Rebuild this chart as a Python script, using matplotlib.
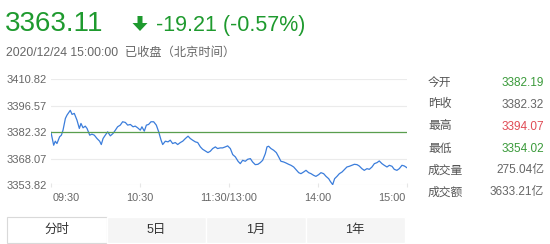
import matplotlib
matplotlib.use("Agg")
import matplotlib.pyplot as plt
from matplotlib.patches import Rectangle, Polygon

# 分时数据 (minutes since 09:30, lunch break removed)
minutes = [0, 1.8, 2.9, 4.0, 5.8, 7.0, 8.1, 9.7, 10.8, 13.0, 14.2, 15.7, 17.5, 19.1, 20.2,
           21.6, 23.1, 24.3, 26.1, 27.6, 29.2, 31.0, 32.8, 33.9, 35.1, 36.6, 38.2, 40.0,
           41.8, 43.4, 44.9, 46.7, 48.3, 50.1, 51.7, 53.5, 55.3, 56.8, 58.4, 60.2, 61.3,
           62.9, 64.3, 65.8, 67.4, 69.2, 71.0, 72.6, 74.2, 75.3, 77.1, 78.9, 80.4, 82.0,
           83.8, 85.4, 87.2, 88.8, 90.6, 92.4, 93.9, 95.5, 97.3, 98.9, 100.7, 102.2, 104.0,
           105.8, 107.4, 109.0, 110.8, 112.3, 114.1, 115.7, 117.5, 119.1, 120.9, 122.5,
           124.3, 126.1, 127.6, 129.2, 131.0, 132.6, 134.4, 135.9, 137.7, 139.5, 141.1,
           142.7, 144.5, 145.6, 146.7, 148.3, 150.1, 151.9, 153.5, 155.0, 156.8, 158.4,
           160.2, 161.8, 163.6, 165.2, 167.0, 168.5, 170.3, 171.9, 173.7, 175.3, 177.1,
           178.6, 180.4, 182.0, 183.8, 185.4, 187.2, 188.3, 189.9, 191.2, 192.8, 194.4,
           196.2, 197.7, 199.5, 201.1, 202.9, 204.5, 206.3, 207.8, 209.6, 211.2, 213.0,
           214.6, 216.4, 218.0, 219.8, 221.3, 223.1, 224.7, 226.5, 228.1, 229.9, 231.4,
           233.2, 234.8, 236.6, 238.2, 240]
prices = [3382.19, 3375.28, 3377.44, 3376.18, 3379.79, 3380.69, 3383.40, 3389.72, 3391.53,
          3394.07, 3391.89, 3392.43, 3388.82, 3384.31, 3387.02, 3384.67, 3385.57, 3384.31,
          3380.69, 3381.24, 3380.69, 3378.89, 3377.44, 3375.64, 3378.89, 3380.69, 3382.50,
          3380.33, 3381.60, 3383.40, 3385.21, 3386.11, 3387.92, 3387.56, 3386.11, 3386.47,
          3385.21, 3385.57, 3384.67, 3383.40, 3385.21, 3382.86, 3386.11, 3386.47, 3387.92,
          3387.92, 3386.11, 3382.50, 3377.99, 3375.64, 3377.44, 3377.08, 3377.99, 3376.18,
          3376.72, 3375.64, 3376.72, 3377.44, 3378.89, 3380.15, 3378.89, 3377.99, 3377.08,
          3376.72, 3374.37, 3373.11, 3372.21, 3371.30, 3372.03, 3373.47, 3374.37, 3373.47,
          3373.83, 3373.83, 3374.37, 3374.92, 3373.47, 3370.22, 3368.96, 3366.61, 3365.34,
          3367.15, 3366.61, 3367.69, 3368.05, 3366.25, 3364.80, 3364.98, 3365.89, 3367.15,
          3370.76, 3374.37, 3374.73, 3373.47, 3372.57, 3371.30, 3368.96, 3366.61, 3366.25,
          3365.70, 3364.98, 3364.44, 3363.54, 3362.09, 3360.47, 3359.93, 3360.83, 3361.73,
          3360.47, 3359.93, 3359.02, 3358.48, 3359.38, 3360.47, 3359.93, 3358.48, 3357.22,
          3355.77, 3354.02, 3357.22, 3358.48, 3359.93, 3360.83, 3362.09, 3363.54, 3363.90,
          3364.44, 3364.98, 3364.80, 3364.08, 3362.63, 3361.73, 3362.63, 3362.27, 3363.54,
          3365.34, 3365.89, 3366.79, 3365.34, 3364.44, 3363.54, 3364.44, 3363.90, 3362.27,
          3361.73, 3362.63, 3364.44, 3364.08, 3363.11]

prev_close = 3382.32
y_ticks = [3353.82, 3368.07, 3382.32, 3396.57, 3410.82]
x_ticks = [0, 60, 120, 180, 240]
x_labels = ["09:30", "10:30", "11:30/13:00", "14:00", "15:00"]

stat_names = ["今开", "昨收", "最高", "最低", "成交量", "成交额"]
stat_values = ["3382.19", "3382.32", "3394.07", "3354.02", "275.04亿", "3633.21亿"]
stat_colors = ["#3a9a3a", "#666666", "#e04b55", "#3a9a3a", "#666666", "#666666"]

tabs = ["分时", "5日", "1月", "1年"]

last_price = "3363.11"
change_text = "-19.21 (-0.57%)"
time_text = "2020/12/24 15:00:00  已收盘（北京时间）"

W, H = 550, 244
fonts = ["Liberation Sans", "Noto Sans CJK SC", "DejaVu Sans"]
plt.rcParams["font.family"] = fonts

fig = plt.figure(figsize=(W / 100, H / 100), dpi=100)


def fx(x):
    return x / W


def fy(y):
    return 1 - y / H


green = "#1e9a2e"

# header
fig.text(fx(5), fy(24), last_price, color=green, fontsize=20, va="center", ha="left")
arrow = Polygon([(fx(137.5), fy(16)), (fx(142.5), fy(16)), (fx(142.5), fy(23)),
                 (fx(147.5), fy(23)), (fx(140), fy(31)), (fx(132.5), fy(23)),
                 (fx(137.5), fy(23))], closed=True, facecolor=green, edgecolor="none",
                transform=fig.transFigure)
fig.add_artist(arrow)
fig.text(fx(156), fy(25), change_text, color=green, fontsize=15.5, va="center", ha="left")
fig.text(fx(6), fy(53), time_text, color="#666666", fontsize=8.8, va="center", ha="left")

# chart
ax = fig.add_axes([fx(51), fy(185), fx(407) - fx(51), (185 - 79.3) / H])
ax.plot(minutes, prices, color="#3b7ddb", lw=0.9)
ax.axhline(prev_close, color="#5a9e4e", lw=0.9)
ax.set_xlim(0, 240)
ax.set_ylim(y_ticks[0], y_ticks[-1])
ax.set_yticks(y_ticks)
ax.set_yticklabels(["%.2f" % v for v in y_ticks])
ax.yaxis.grid(True, color="#ebebeb", lw=0.8)
ax.set_axisbelow(True)
ax.tick_params(axis="y", length=0, pad=3, labelsize=8, labelcolor="#666666")
ax.set_xticks(x_ticks)
ax.set_xticklabels([])
ax.tick_params(axis="x", length=3, direction="inout", color="#e6e6e6")
for s in ax.spines.values():
    s.set_visible(False)

for i, (t, lab) in enumerate(zip(x_ticks, x_labels)):
    ha = "left" if i == 0 else ("right" if i == len(x_ticks) - 1 else "center")
    off = 2 if i == 0 else (-2 if i == len(x_ticks) - 1 else 0)
    ax.annotate(lab, xy=(t, 0), xycoords=("data", "axes fraction"),
                xytext=(off, -13), textcoords="offset pixels",
                ha=ha, va="center", fontsize=7.8, color="#666666")

# stats panel
for i, (n, v, c) in enumerate(zip(stat_names, stat_values, stat_colors)):
    yy = 82.5 + i * 22
    fig.text(fx(428), fy(yy), n, color="#555555", fontsize=8.5, va="center", ha="left")
    fig.text(fx(544), fy(yy), v, color=c, fontsize=8.5, va="center", ha="right")

# tabs
tab_left = 7
tab_w = 99.5
for i, name in enumerate(tabs):
    x0 = tab_left + i * tab_w
    if i == 0:
        rect = Rectangle((fx(x0), fy(243)), tab_w / W, 26 / H, facecolor="white",
                         edgecolor="#d9d9d9", lw=0.8, transform=fig.transFigure)
    else:
        rect = Rectangle((fx(x0), fy(243)), tab_w / W, 26 / H, facecolor="#f5f5f5",
                         edgecolor="#ffffff", lw=1.0, transform=fig.transFigure)
    fig.add_artist(rect)
    fig.text(fx(x0 + tab_w / 2), fy(230), name, color="#333333", fontsize=9,
             ha="center", va="center")

fig.savefig("out.png", dpi=100)
